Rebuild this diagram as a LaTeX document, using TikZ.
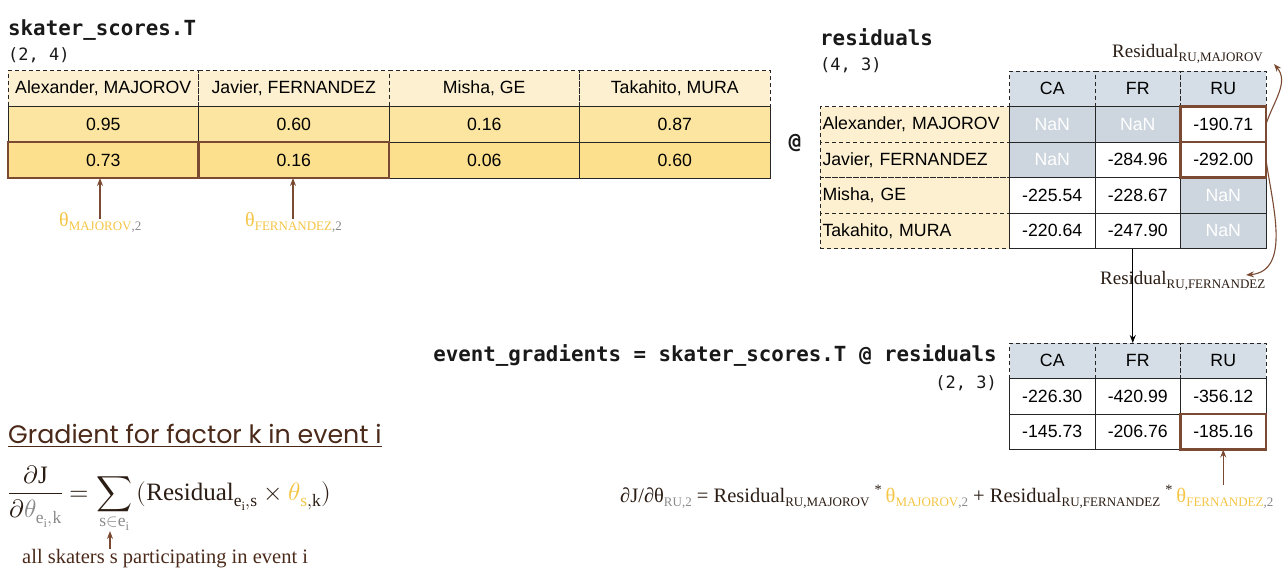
\documentclass[tikz,border=0pt]{standalone}
\usepackage{fontspec}
\usepackage{unicode-math}
\setmainfont{Liberation Serif}
\setmathfont{Latin Modern Math}
\newfontfamily\tabf{Liberation Sans}
\newfontfamily\monof{DejaVu Sans Mono}
\newfontfamily\popf{Poppins}
\usetikzlibrary{arrows.meta,calc}
\definecolor{brn}{HTML}{7A4A33}
\definecolor{txtbrn}{HTML}{4B2A1A}
\definecolor{dark}{HTML}{2B1D14}
\definecolor{gold}{HTML}{F4C546}
\definecolor{cream}{HTML}{FCF0D0}
\definecolor{yelA}{HTML}{FCE5A0}
\definecolor{yelB}{HTML}{FDE08E}
\definecolor{bluegr}{HTML}{D5DEE6}
\definecolor{nancol}{HTML}{CDD6DE}
\definecolor{subgray}{HTML}{8A8A8A}
\newcommand\tabfont{\tabf\fontsize{17.7}{20}\selectfont}
\newcommand\sbx[1]{\raisebox{-0.5ex}{\fontsize{13}{13}\selectfont #1}}
\begin{document}
\begin{tikzpicture}[x=1pt,y=-1pt,
  base/.style={inner sep=0pt, outer sep=0pt, anchor=center, font=\tabfont},
  lcell/.style={base, minimum width=190.5pt, minimum height=36pt, draw=black!85, line width=0.9pt},
  lhead/.style={lcell, dashed, dash pattern=on 4pt off 3pt, fill=cream},
  rval/.style={base, minimum width=85.5pt, minimum height=35.5pt, draw=black!85, line width=0.9pt, fill=white},
  rnan/.style={rval, fill=nancol, text=white},
  rhead/.style={rval, dash pattern=on 4pt off 3pt, fill=bluegr},
  rlab/.style={base, minimum width=189.5pt, minimum height=35.5pt, text width=184.5pt, inner xsep=2.5pt, align=left, draw=black!85, line width=0.9pt, dash pattern=on 4pt off 3pt, fill=cream},
  hl/.style={draw=brn, line width=2.4pt},
  barr/.style={draw=brn, line width=1.1pt, -{Stealth[length=8pt,width=6pt]}},
  karr/.style={draw=black, line width=1pt, -{Stealth[length=8pt,width=6pt]}},
  mtitle/.style={inner sep=0pt, font=\monof\bfseries\fontsize{20.8}{24}\selectfont, text=black!90},
  mshape/.style={inner sep=0pt, font=\monof\fontsize{17}{20}\selectfont, text=black!90},
  serlab/.style={inner sep=0pt, font=\fontsize{19}{22}\selectfont, text=dark},
  thlab/.style={inner sep=0pt, font=\fontsize{20}{22}\selectfont, text=gold}
]
\useasboundingbox (0,0) rectangle (1287,582);

% ---------- skater_scores.T ----------
\node[mtitle, anchor=base west] (t1) at (8,35) {skater\_scores.T};
\node[mshape, anchor=base west] (t1s) at (8,60) {(2, 4)};

\node[lhead] (s-h1) at (103.25,88.5) {Alexander, MAJOROV};
\node[lhead] (s-h2) at (293.75,88.5) {Javier, FERNANDEZ};
\node[lhead] (s-h3) at (484.25,88.5) {Misha, GE};
\node[lhead] (s-h4) at (674.75,88.5) {Takahito, MURA};
\node[lcell, fill=yelA] (s-r1c1) at (103.25,124) {0.95};
\node[lcell, fill=yelA] (s-r1c2) at (293.75,124) {0.60};
\node[lcell, fill=yelA] (s-r1c3) at (484.25,124) {0.16};
\node[lcell, fill=yelA] (s-r1c4) at (674.75,124) {0.87};
\node[lcell, fill=yelB] (s-r2c1) at (103.25,160) {0.73};
\node[lcell, fill=yelB] (s-r2c2) at (293.75,160) {0.16};
\node[lcell, fill=yelB] (s-r2c3) at (484.25,160) {0.06};
\node[lcell, fill=yelB] (s-r2c4) at (674.75,160) {0.60};

\node[thlab, anchor=base west] (thM) at (59,226) {θ\sbx{MAJOROV\textcolor{subgray}{,2}}};
\node[thlab, anchor=base west] (thF) at (245,226) {θ\sbx{FERNANDEZ\textcolor{subgray}{,2}}};
\coordinate (thMa) at (100,219);
\coordinate (thFa) at (293,219);
\draw[barr] (thMa) -- (thMa |- s-r2c1.south);
\draw[barr] (thFa) -- (thFa |- s-r2c2.south);

\node[mtitle] (at1) at (795,143) {@};

% ---------- residuals ----------
\node[mtitle, anchor=base west] (t2) at (820,45) {residuals};
\node[mshape, anchor=base west] (t2s) at (820,70) {(4, 3)};

\node[rlab] (r-l1) at (914.75,124.25) {Alexander, MAJOROV};
\node[rlab] (r-l2) at (914.75,159.75) {Javier, FERNANDEZ};
\node[rlab] (r-l3) at (914.75,195.25) {Misha, GE};
\node[rlab] (r-l4) at (914.75,230.75) {Takahito, MURA};
\node[rhead] (r-h1) at (1052.25,88.75) {CA};
\node[rhead] (r-h2) at (1137.75,88.75) {FR};
\node[rhead] (r-h3) at (1223.25,88.75) {RU};
\node[rnan] (r-r1c1) at (1052.25,124.25) {NaN};
\node[rnan] (r-r1c2) at (1137.75,124.25) {NaN};
\node[rval] (r-r1c3) at (1223.25,124.25) {-190.71};
\node[rnan] (r-r2c1) at (1052.25,159.75) {NaN};
\node[rval] (r-r2c2) at (1137.75,159.75) {-284.96};
\node[rval] (r-r2c3) at (1223.25,159.75) {-292.00};
\node[rval] (r-r3c1) at (1052.25,195.25) {-225.54};
\node[rval] (r-r3c2) at (1137.75,195.25) {-228.67};
\node[rnan] (r-r3c3) at (1223.25,195.25) {NaN};
\node[rval] (r-r4c1) at (1052.25,230.75) {-220.64};
\node[rval] (r-r4c2) at (1137.75,230.75) {-247.90};
\node[rnan] (r-r4c3) at (1223.25,230.75) {NaN};

\node[serlab, anchor=base west] (resM) at (1112,57) {Residual\sbx{RU,MAJOROV}};
\node[serlab, anchor=base west] (resF) at (1100,284) {Residual\sbx{RU,FERNANDEZ}};
\coordinate (tipM) at (1274,64);
\coordinate (tipF) at (1246,275);
\draw[barr] (r-r1c3.east) to[out=72,in=-50] (tipM);
\draw[barr] (r-r2c3.east) to[out=-82,in=5] (tipF);

% ---------- event gradients ----------
\node[mtitle, anchor=base east] (t3) at (997,361) {event\_gradients = skater\_scores.T @ residuals};
\node[mshape, anchor=base east] (t3s) at (997,388) {(2, 3)};

\node[rhead] (g-h1) at (1052.25,360.75) {CA};
\node[rhead] (g-h2) at (1137.75,360.75) {FR};
\node[rhead] (g-h3) at (1223.25,360.75) {RU};
\node[rval] (g-r1c1) at (1052.25,396.25) {-226.30};
\node[rval] (g-r1c2) at (1137.75,396.25) {-420.99};
\node[rval] (g-r1c3) at (1223.25,396.25) {-356.12};
\node[rval] (g-r2c1) at (1052.25,431.75) {-145.73};
\node[rval] (g-r2c2) at (1137.75,431.75) {-206.76};
\node[rval] (g-r2c3) at (1223.25,431.75) {-185.16};

\draw[karr] ($(r-r4c2.south)+(-5,0)$) -- ($(g-h2.north)+(-5,0)$);

\foreach \n in {s-r2c1,s-r2c2,r-r1c3,r-r2c3,g-r2c3}
  \draw[hl] (\n.north west) rectangle (\n.south east);

% ---------- formulas ----------
\node[inner sep=0pt, anchor=base west, font=\fontsize{20.5}{22}\selectfont, text=dark] (brf) at (620,502)
 {∂J/∂θ\sbx{\textcolor{subgray}{RU,2}} = Residual\sbx{RU,MAJOROV} \textsuperscript{*}\,\textcolor{gold}{θ\sbx{MAJOROV\textcolor{subgray}{,2}}} + Residual\sbx{RU,FERNANDEZ} \textsuperscript{*}\,\textcolor{gold}{θ\sbx{FERNANDEZ\textcolor{subgray}{,2}}}};
\draw[barr] (g-r2c3.south |- brf.north) -- (g-r2c3.south);

\node[inner sep=0pt, anchor=base west, font=\popf\fontsize{25.3}{28}\selectfont, text=txtbrn] (gtit) at (8,443) {Gradient for factor k in event i};
\draw[txtbrn, line width=1pt] ($(gtit.base west)+(0,3.5)$) -- ($(gtit.base east)+(0,3.5)$);

\node[inner sep=0pt, anchor=base west, font=\fontsize{25}{28}\selectfont, text=dark] (lf) at (8,500)
 {$\displaystyle \frac{\partial \mathrm{J}}{\partial{\color{subgray}\theta_{\mathrm{e_i,k}}}} = \sum_{\color{subgray}\mathrm{s}\in\mathrm{e_i}} \,(\mathrm{Residual}_{\mathrm{e_i,s}}\times{\color{gold}\theta}_{{\color{gold}\mathrm{s}},\mathrm{k}})$};
\coordinate (sumlim) at (110,531);
\node[inner sep=0pt, anchor=base west, font=\fontsize{20.5}{22}\selectfont, text=txtbrn] (allsk) at (22,563) {all skaters s participating in event i};
\draw[barr] (allsk.north -| sumlim) -- (sumlim);
\end{tikzpicture}
\end{document}
